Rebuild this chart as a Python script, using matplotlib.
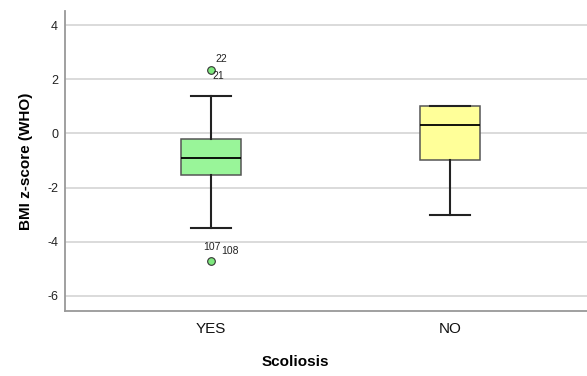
import matplotlib
matplotlib.use('Agg')
import matplotlib.pyplot as plt

plt.rcParams['font.family'] = ['Liberation Sans', 'DejaVu Sans']
plt.rcParams['axes.unicode_minus'] = False

# box statistics
groups = ['YES', 'NO']
medians = [-0.9, 0.31]
q1 = [-1.52, -1.0]
q3 = [-0.22, 1.01]
whisk_lo = [-3.48, -3.0]
whisk_hi = [1.38, 1.01]
outliers = [[2.33, -4.7], []]
outlier_ids = [[('22', 2.33, (10, 11)), ('21', 2.33, (7, -6)),
                ('107', -4.7, (1, 14)), ('108', -4.7, (19, 10))], []]
fills = ['#99f599', '#ffff99']

stats = []
for i in range(len(groups)):
    stats.append({'med': medians[i], 'q1': q1[i], 'q3': q3[i],
                  'whislo': whisk_lo[i], 'whishi': whisk_hi[i],
                  'fliers': outliers[i], 'label': groups[i]})

fig = plt.figure(figsize=(5.87, 3.76), dpi=100)
ax = fig.add_axes([65/587, 1 - 311/376, 1 - 65/587, 300/376])

bp = ax.bxp(stats, positions=[1, 2], widths=0.25, patch_artist=True,
            showfliers=True,
            boxprops=dict(edgecolor='#555555', linewidth=1.1),
            medianprops=dict(color='black', linewidth=1.3),
            whiskerprops=dict(color='#222222', linewidth=1.5),
            capprops=dict(color='#222222', linewidth=1.5),
            flierprops=dict(marker='o', markerfacecolor='#7ee87e',
                            markeredgecolor='#333333', markersize=5.5,
                            markeredgewidth=0.8))
for patch, c in zip(bp['boxes'], fills):
    patch.set_facecolor(c)
for cap in bp['caps']:
    x = cap.get_xdata()
    mid = (x[0] + x[1]) / 2
    cap.set_xdata([mid - 0.085, mid + 0.085])

for i, ids in enumerate(outlier_ids):
    for txt, yv, off in ids:
        ax.annotate(txt, (i + 1, yv), xytext=off, textcoords='offset pixels',
                    ha='center', va='center', fontsize=7.5, color='#222222')

ax.set_xlim(1 - 146/239, 2 + 137/239)
ax.set_ylim(-6.56, 4.52)
ax.set_yticks([4, 2, 0, -2, -4, -6])
ax.yaxis.grid(True, color='#d4d4d4', linewidth=1.2)
ax.set_axisbelow(True)
ax.tick_params(axis='both', length=0)
ax.tick_params(axis='y', labelsize=9, pad=5, labelcolor='#222222')
ax.tick_params(axis='x', labelsize=11, pad=8, labelcolor='#111111')
for s in ['top', 'right']:
    ax.spines[s].set_visible(False)
for s in ['left', 'bottom']:
    ax.spines[s].set_color('#999999')
    ax.spines[s].set_linewidth(1.3)

ax.set_ylabel('BMI z-score (WHO)', fontsize=11, fontweight='bold', labelpad=10)
ax.set_xlabel('Scoliosis', fontsize=11, fontweight='bold')
ax.xaxis.set_label_coords((295 - 65) / 522, -(355 - 311) / 300)

fig.savefig('out.png', dpi=100)
